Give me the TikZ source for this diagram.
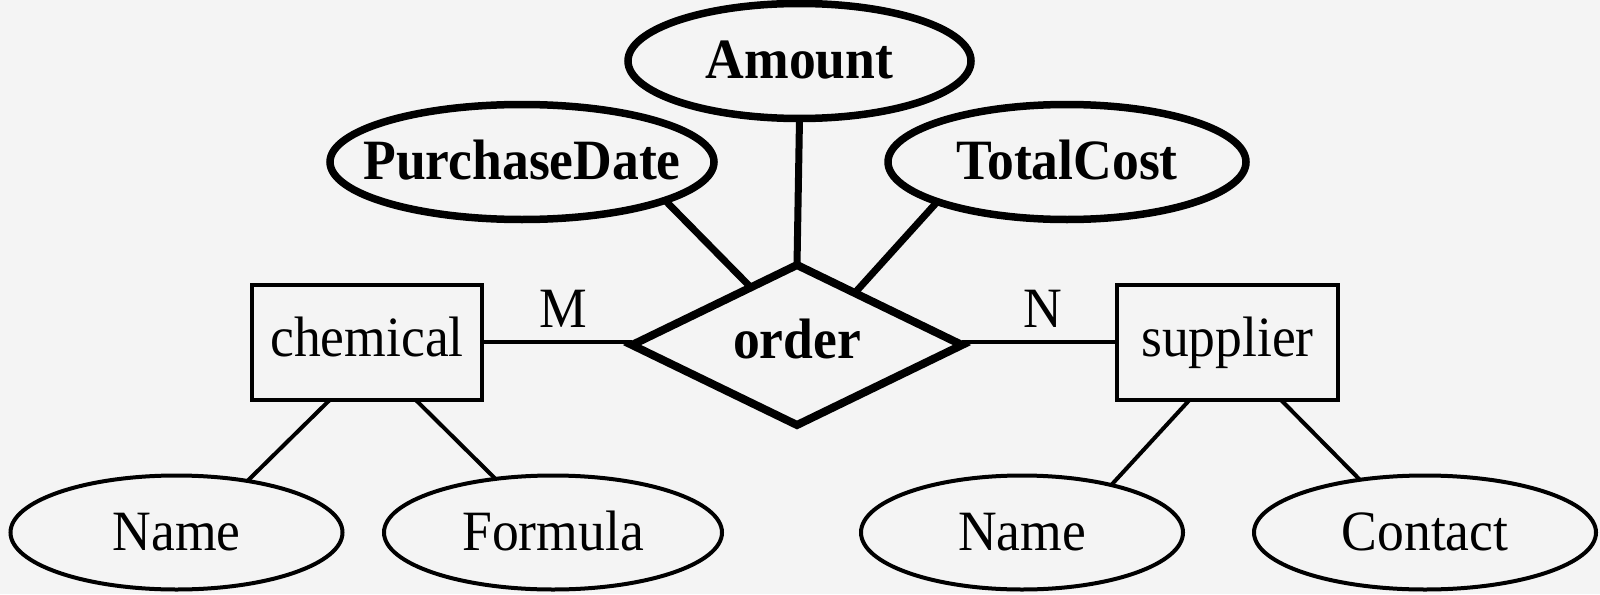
\documentclass[tikz,border=0pt]{standalone}
\usepackage{fontspec}
\setmainfont[FakeStretch=0.94]{Liberation Serif}
\usetikzlibrary{shapes.geometric,calc}
\definecolor{bgcol}{RGB}{244,244,244}
\newcommand\ztxt[1]{\makebox[0pt]{#1}}
\tikzset{
  lbl/.style={inner sep=0pt, outer sep=0pt, text height=35pt, text depth=0pt, font=\fontsize{57}{64}\selectfont},
  entity/.style={lbl, draw, line width=4pt, rectangle, minimum width=#1, minimum height=115pt, text height=29pt},
  attr/.style={lbl, draw, ellipse, line width=4pt, minimum width=#1, minimum height=114pt},
  keyattr/.style={lbl, draw, ellipse, line width=7.5pt, minimum width=#1, minimum height=115pt, font=\fontsize{57}{64}\selectfont\bfseries},
  rel/.style={lbl, draw, diamond, line width=8pt, minimum width=330pt, minimum height=160pt, aspect=2.06, text height=26pt, font=\fontsize{57}{64}\selectfont\bfseries},
  thinline/.style={line width=4pt},
  thickline/.style={line width=7pt},
}
\begin{document}
\begin{tikzpicture}[x=1pt,y=-1pt]
\fill[bgcol] (0,0) rectangle (1600,594);
\useasboundingbox (0,0) rectangle (1600,594);

\node[keyattr=343pt] (amount) at (799.5,61) {\ztxt{Amount}};
\node[keyattr=384pt] (pd) at (522,162) {\ztxt{PurchaseDate}};
\node[keyattr=358pt] (tc) at (1067,162) {\ztxt{TotalCost}};
\node[rel] (order) at (797,345) {order};
\node[entity=230pt] (chem) at (367,342) {chemical};
\node[entity=221pt] (supp) at (1227.5,342) {supplier};
\node[attr=332pt] (nameL) at (176.5,532.5) {\ztxt{Name}};
\node[attr=338pt] (formula) at (553,532.5) {\ztxt{Formula}};
\node[attr=322pt] (nameR) at (1022,532.5) {\ztxt{Name}};
\node[attr=342pt] (contact) at (1425,532.5) {\ztxt{Contact}};
\node[lbl] (m) at (563,310) {M};
\node[lbl] (n) at (1043,310) {N};

\draw[thickline] (amount.south) -- (order.north);
\draw[thickline] (pd.-15) -- ($(order.west)!0.72!(order.north)$);
\draw[thickline] (tc.-163) -- ($(order.north)!0.35!(order.east)$);
\draw[thinline] (chem.east) -- (chem.east -| order.west);
\draw[thinline] (supp.west -| order.east) -- (supp.west);
\draw[thinline] ($(chem.south west)!0.34!(chem.south east)$) -- (nameL.36);
\draw[thinline] ($(chem.south west)!0.71!(chem.south east)$) -- (formula.137);
\draw[thinline] ($(supp.south west)!0.33!(supp.south east)$) -- (nameR.28);
\draw[thinline] ($(supp.south west)!0.74!(supp.south east)$) -- (contact.141);
\end{tikzpicture}
\end{document}
